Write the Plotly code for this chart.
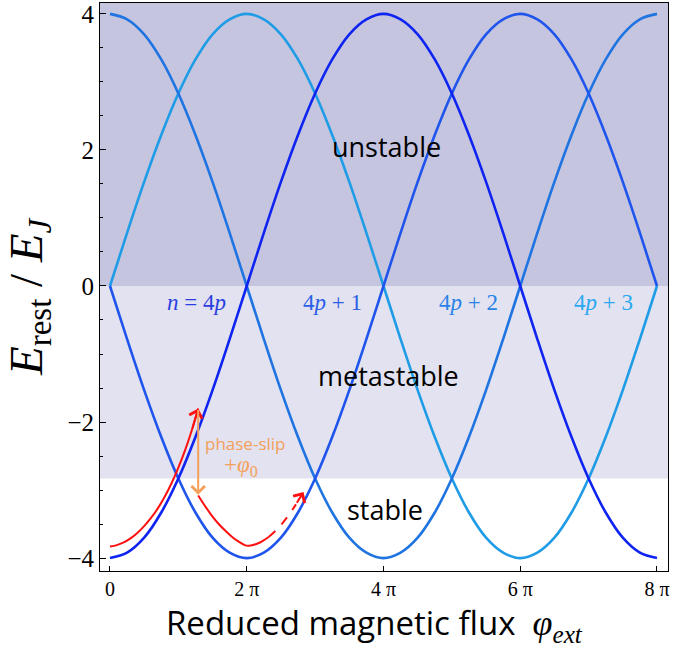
import plotly.graph_objects as go

# ---------------- data (x in units of pi) ----------------
flux = [0, 0.25, 0.5, 0.75, 1, 1.25, 1.5, 1.75, 2, 2.25, 2.5, 2.75, 3, 3.25, 3.5, 3.75,
        4, 4.25, 4.5, 4.75, 5, 5.25, 5.5, 5.75, 6, 6.25, 6.5, 6.75, 7, 7.25, 7.5, 7.75, 8]

E_n0 = [-4, -3.92, -3.70, -3.33, -2.83, -2.22, -1.53, -0.78, 0, 0.78, 1.53, 2.22, 2.83, 3.33, 3.70, 3.92,
        4, 3.92, 3.70, 3.33, 2.83, 2.22, 1.53, 0.78, 0, -0.78, -1.53, -2.22, -2.83, -3.33, -3.70, -3.92, -4]
E_n1 = [0, -0.78, -1.53, -2.22, -2.83, -3.33, -3.70, -3.92, -4, -3.92, -3.70, -3.33, -2.83, -2.22, -1.53, -0.78,
        0, 0.78, 1.53, 2.22, 2.83, 3.33, 3.70, 3.92, 4, 3.92, 3.70, 3.33, 2.83, 2.22, 1.53, 0.78, 0]
E_n2 = [4, 3.92, 3.70, 3.33, 2.83, 2.22, 1.53, 0.78, 0, -0.78, -1.53, -2.22, -2.83, -3.33, -3.70, -3.92,
        -4, -3.92, -3.70, -3.33, -2.83, -2.22, -1.53, -0.78, 0, 0.78, 1.53, 2.22, 2.83, 3.33, 3.70, 3.92, 4]
E_n3 = [0, 0.78, 1.53, 2.22, 2.83, 3.33, 3.70, 3.92, 4, 3.92, 3.70, 3.33, 2.83, 2.22, 1.53, 0.78,
        0, -0.78, -1.53, -2.22, -2.83, -3.33, -3.70, -3.92, -4, -3.92, -3.70, -3.33, -2.83, -2.22, -1.53, -0.78, 0]

branch_labels = ["<i>n</i> = 4<i>p</i>", "4<i>p</i> + 1", "4<i>p</i> + 2", "4<i>p</i> + 3"]
branch_label_x = [1.27, 3.26, 5.24, 7.22]
branch_label_y = [-0.24, -0.24, -0.24, -0.24]

# red trajectory (phase slip)
red1_x = [0, 0.1, 0.2, 0.3, 0.4, 0.5, 0.6, 0.7, 0.8, 0.9, 1.0, 1.1, 1.2]
red1_y = [-3.83, -3.81, -3.77, -3.71, -3.63, -3.53, -3.41, -3.27, -3.10, -2.90, -2.67, -2.41, -2.11]
red1_tip = (1.29, -1.80)
red2_x = [1.29, 1.40, 1.50, 1.60, 1.70, 1.80, 1.90, 1.97, 2.02, 2.08, 2.15, 2.23, 2.32]
red2_y = [-3.08, -3.25, -3.39, -3.51, -3.61, -3.70, -3.77, -3.81, -3.82, -3.81, -3.79, -3.75, -3.69]
red3_x = [2.32, 2.42, 2.52, 2.62, 2.72]
red3_y = [-3.69, -3.60, -3.49, -3.36, -3.21]
red3_tip = (2.83, -3.03)

slip_x = 1.29
slip_top = -1.80
slip_bottom = -3.07

stable_limit = -2.83

region_names = ["unstable", "metastable", "stable"]
region_x = [4.04, 4.08, 4.02]
region_y = [2.05, -1.31, -3.28]

# ---------------- style ----------------
colors = ["#0f24f0", "#1f55ec", "#1f74e2", "#1f9ce6"]
label_colors = ["#2a3fe0", "#2a5fe6", "#2a82e6", "#2aa8f0"]
orange = "#f5a05a"
red = "#ff1010"
serif = "Liberation Serif"
sans = "Open Sans"

fig = go.Figure()

series = [E_n0, E_n1, E_n2, E_n3]
for idx in [3, 2, 1, 0]:
    fig.add_trace(go.Scatter(x=flux, y=series[idx], mode="lines",
                             line=dict(color=colors[idx], width=2.6, shape="spline"),
                             hoverinfo="skip", showlegend=False))

fig.add_trace(go.Scatter(x=red1_x + [red1_tip[0]], y=red1_y + [red1_tip[1]], mode="lines",
                         line=dict(color=red, width=2, shape="spline"), showlegend=False))
fig.add_trace(go.Scatter(x=red2_x, y=red2_y, mode="lines",
                         line=dict(color=red, width=2, shape="spline"), showlegend=False))
fig.add_trace(go.Scatter(x=red3_x, y=red3_y, mode="lines",
                         line=dict(color=red, width=2, shape="spline", dash="dash"), showlegend=False))

# shaded regions
fig.add_shape(type="rect", xref="paper", yref="y", x0=0, x1=1, y0=0, y1=4.16,
              fillcolor="#c5c5e0", line_width=0, layer="below")
fig.add_shape(type="rect", xref="paper", yref="y", x0=0, x1=1, y0=stable_limit, y1=0,
              fillcolor="#e2e2f0", line_width=0, layer="below")

annotations = []
for name, xx, yy in zip(region_names, region_x, region_y):
    annotations.append(dict(x=xx, y=yy, text=name, showarrow=False,
                            font=dict(family=sans, size=27, color="black")))
for t, xx, yy, c in zip(branch_labels, branch_label_x, branch_label_y, label_colors):
    annotations.append(dict(x=xx, y=yy, text=t, showarrow=False,
                            font=dict(family=serif, size=23, color=c)))

# red arrowheads
annotations.append(dict(x=red1_tip[0], y=red1_tip[1], ax=red1_x[-1], ay=red1_y[-1],
                        xref="x", yref="y", axref="x", ayref="y", text="", showarrow=True,
                        arrowhead=4, arrowsize=1.3, arrowwidth=2, arrowcolor=red, standoff=0))
annotations.append(dict(x=red3_tip[0], y=red3_tip[1], ax=red3_x[-1], ay=red3_y[-1],
                        xref="x", yref="y", axref="x", ayref="y", text="", showarrow=True,
                        arrowhead=4, arrowsize=1.3, arrowwidth=2, arrowcolor=red, standoff=0))
# orange phase slip arrow
annotations.append(dict(x=slip_x, y=slip_bottom, ax=slip_x, ay=slip_top,
                        xref="x", yref="y", axref="x", ayref="y", text="", showarrow=True,
                        arrowhead=4, arrowsize=1.3, arrowwidth=2, arrowcolor=orange, standoff=0))
annotations.append(dict(x=1.98, y=-2.32, text="phase-slip", showarrow=False,
                        font=dict(family=sans, size=17, color=orange)))
annotations.append(dict(x=1.92, y=-2.65, text="+<i>φ</i><sub>0</sub>", showarrow=False,
                        font=dict(family=serif, size=23, color=orange)))

# axis titles
annotations.append(dict(xref="paper", yref="paper", x=-0.18, y=0.483, textangle=-90,
                        text="<i>E</i><sub>rest</sub> / <i>E</i><sub><i>J</i></sub>",
                        showarrow=False, font=dict(family=serif, size=47, color="black")))
annotations.append(dict(xref="paper", yref="paper", x=0.484, y=-0.093, yanchor="middle",
                        text="Reduced magnetic flux  <span style=\"font-family:Liberation Serif;font-size:36px\"><i>φ</i><sub><i>ext</i></sub></span>",
                        showarrow=False, font=dict(family=sans, size=33, color="black")))

fig.update_layout(
    width=676, height=652,
    margin=dict(l=100, r=8, t=3, b=81),
    plot_bgcolor="white", paper_bgcolor="white",
    showlegend=False,
    annotations=annotations,
    xaxis=dict(range=[-0.146, 8.161], tickvals=[0, 2, 4, 6, 8],
               ticktext=["0", "2 π", "4 π", "6 π", "8 π"],
               ticks="inside", ticklen=5, tickcolor="black",
               showline=True, linecolor="black", linewidth=1, mirror=True,
               showgrid=False, zeroline=False, automargin=False,
               tickfont=dict(family=serif, size=20, color="black")),
    yaxis=dict(range=[-4.19, 4.16], tickvals=[-4, -2, 0, 2, 4],
               ticks="inside", ticklen=6, tickcolor="black",
               minor=dict(dtick=0.5, ticks="inside", ticklen=3, tickcolor="black", showgrid=False),
               showline=True, linecolor="black", linewidth=1, mirror=True,
               showgrid=False, zeroline=False, automargin=False,
               tickfont=dict(family=serif, size=25, color="black")),
)

fig.write_html("out.html", config={"displayModeBar": False},
               post_script="document.body.style.margin='0';")
